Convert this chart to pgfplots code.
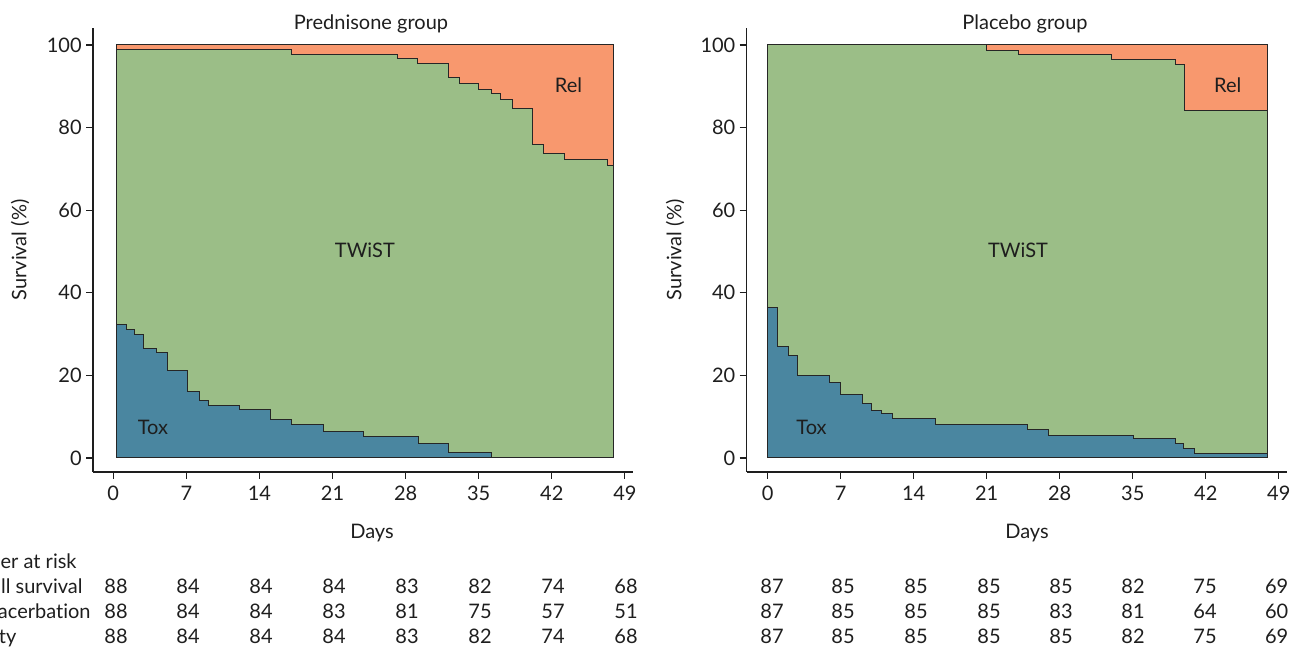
\documentclass[border=0pt]{standalone}
\usepackage{fontspec}
\setmainfont{Lato}[Ligatures=NoCommon]
\usepackage{pgfplots}
\pgfplotsset{compat=1.18}
\definecolor{relc}{RGB}{248,152,110}
\definecolor{twc}{RGB}{155,190,135}
\definecolor{toxc}{RGB}{74,134,160}
\definecolor{txt}{RGB}{30,30,30}
\pgfplotsset{km/.style={scale only axis, width=270pt, height=222pt,
  axis x line=bottom, axis y line=left,
  axis line style={-, line width=0.6pt, txt},
  xtick={0,7,...,49}, ytick={0,20,...,100},
  tick align=outside, major tick length=3.5pt,
  tick style={line width=0.6pt, txt},
  ymin=-3.4, ymax=104.1,
  ticklabel style={font=\fontsize{10}{12}\selectfont, text=txt},
  yticklabel style={inner sep=2pt},
  /pgf/number format/assume math mode=true, clip=false},
  area/.style={line width=0.5pt, draw=black!85}}
\begin{document}
\begin{tikzpicture}[every node/.style={text=txt, font=\fontsize{10}{12}\selectfont}]
% Prednisone
\begin{axis}[km, at={(46.5pt,88pt)}, anchor=south west, xmin=-1.94, xmax=49.78]
\addplot[area, fill=relc] coordinates {(0.3,0) (0.3,100) (47.9,100) (47.9,0)} -- cycle;
\addplot[area, fill=twc, const plot] coordinates {(0.3,98.8) (17.1,97.7) (27.2,96.6) (29.1,95.5) (32.1,92.0) (33.2,90.6) (35.0,89.3) (36.2,88.3) (37.1,86.8) (38.2,84.6) (40.2,76.0) (41.2,73.7) (43.2,72.2) (47.3,70.9) (47.9,70.9)} \closedcycle;
\addplot[area, fill=toxc, const plot] coordinates {(0.3,32.4) (1.25,31.1) (2.07,29.9) (2.87,26.6) (4.14,25.5) (5.21,21.1) (7.12,16.2) (8.23,14.0) (9.13,12.6) (12.05,11.8) (15.1,9.3) (17.1,8.0) (20.15,6.5) (24.0,5.2) (29.2,3.6) (32.1,1.2) (36.2,0)} \closedcycle;
\node at (axis cs:43.6,90.3) {Rel};
\node at (axis cs:24.1,50.4) {TWiST};
\node at (axis cs:3.8,7.3) {Tox};
\end{axis}
% Placebo
\begin{axis}[km, at={(373.35pt,88pt)}, anchor=south west, xmin=-2.01, xmax=49.76]
\addplot[area, fill=relc] coordinates {(0,0) (0,100) (47.95,100) (47.95,0)} -- cycle;
\addplot[area, fill=twc, const plot] coordinates {(0,100) (21.0,98.6) (24.0,97.7) (32.95,96.5) (39.1,95.2) (40.0,84.1) (47.95,84.1)} \closedcycle;
\addplot[area, fill=toxc, const plot] coordinates {(0,36.5) (0.96,27.0) (1.97,24.9) (2.88,20.0) (5.96,18.3) (7.0,15.4) (9.1,13.3) (9.98,11.6) (10.9,10.8) (11.97,9.6) (16.1,8.2) (24.9,7.0) (26.9,5.4) (35.1,4.7) (39.05,3.5) (39.9,2.3) (40.9,1.0) (47.95,1.0)} \closedcycle;
\node at (axis cs:44.1,90.3) {Rel};
\node at (axis cs:24.0,50.4) {TWiST};
\node at (axis cs:4.2,7.3) {Tox};
\end{axis}
% titles and labels
\node[anchor=base, inner sep=0] at (185.5pt,309.25pt) {Prednisone group};
\node[anchor=base, inner sep=0] at (512.5pt,309.25pt) {Placebo group};
\node[anchor=base, inner sep=0] at (186pt,54.75pt) {Days};
\node[anchor=base, inner sep=0] at (513.5pt,54.75pt) {Days};
\node[rotate=90, inner sep=0] at (10pt,199pt) {Survival (\%)};
\node[rotate=90, inner sep=0] at (337.5pt,199pt) {Survival (\%)};
% number at risk
\node[anchor=base east, inner sep=0] at (38.5pt,39.75pt) {Number at risk};
\node[anchor=base east, inner sep=0] at (41.5pt,27.25pt) {Overall survival};
\node[anchor=base east, inner sep=0] at (45.5pt,14.75pt) {Exacerbation};
\node[anchor=base east, inner sep=0] at (8.35pt,2.25pt) {Toxicity};
\foreach \x/\a/\b/\c in {58/88/88/88, 94/84/84/84, 130.5/84/84/84, 167/84/83/84, 203.5/83/81/83, 240/82/75/82, 276.5/74/57/74, 313/68/51/68,
  386/87/87/87, 421.5/85/85/85, 458/85/85/85, 494.5/85/85/85, 530.5/85/83/85, 566.5/82/81/82, 602.5/75/64/75, 638.3/69/60/69} {
  \node[anchor=base, inner sep=0] at (\x pt,27.25pt) {\a};
  \node[anchor=base, inner sep=0] at (\x pt,14.75pt) {\b};
  \node[anchor=base, inner sep=0] at (\x pt,2.25pt) {\c};
}
\pgfresetboundingbox
\path[use as bounding box] (0,0) rectangle (645pt,324pt);
\end{tikzpicture}
\end{document}
